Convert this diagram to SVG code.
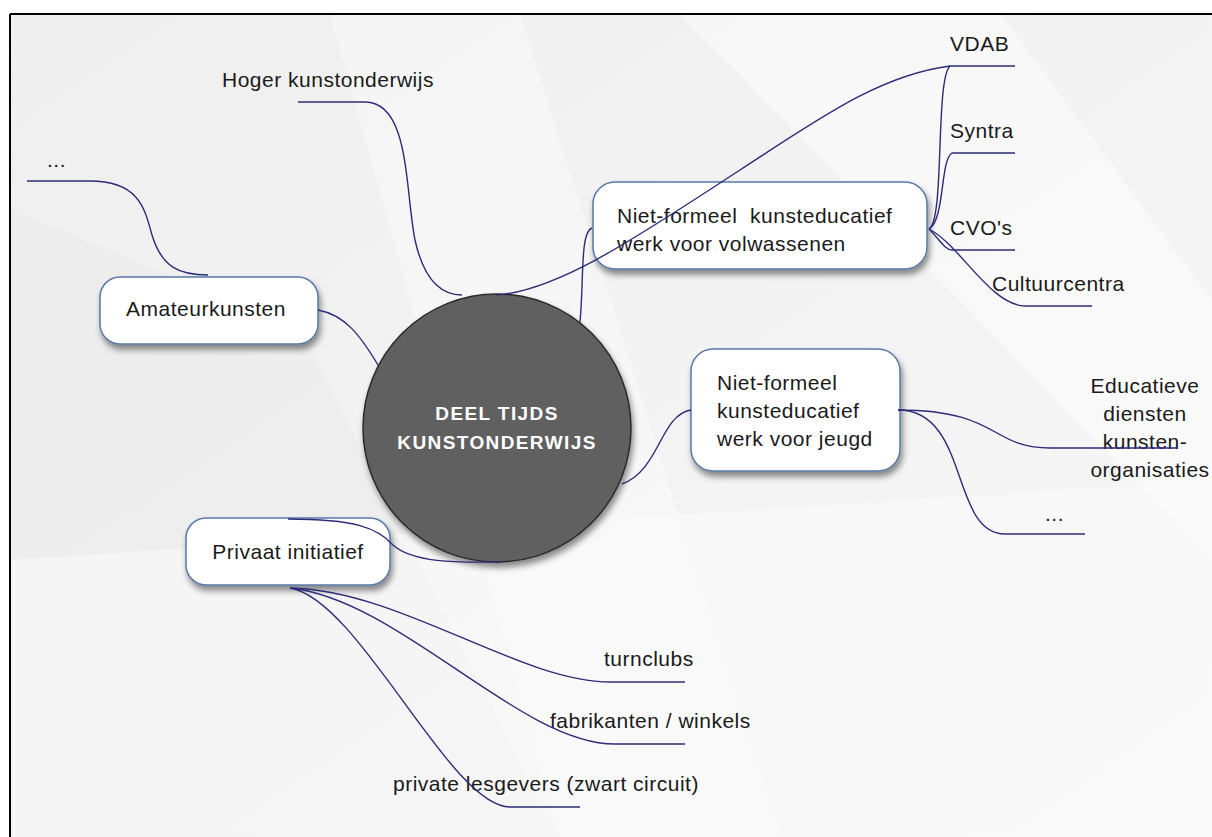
<svg xmlns="http://www.w3.org/2000/svg" width="1212" height="837" viewBox="0 0 1212 837">
  <style>
    .lbl { font-family: "Liberation Sans", Arial, sans-serif; font-size: 21px; fill: #1a1a1a; letter-spacing: 0.5px; }
    .box { fill: #ffffff; stroke: #5a78a8; stroke-width: 1.5; filter: url(#shadow); }
    .conn path { fill: none; stroke: #2c2c78; stroke-width: 1.4; }
    .core { font-family: "Liberation Sans", Arial, sans-serif; font-size: 19px; font-weight: bold; fill: #ffffff; letter-spacing: 1.4px; }
  </style>
  <defs>
    <filter id="shadow" x="-20%" y="-20%" width="140%" height="160%">
      <feDropShadow dx="2" dy="5" stdDeviation="3" flood-color="#000" flood-opacity="0.45"/>
    </filter>
    <linearGradient id="bg" x1="0" y1="0" x2="1" y2="1">
      <stop offset="0" stop-color="#efefef"/>
      <stop offset="1" stop-color="#f7f7f7"/>
    </linearGradient>
  </defs>

  <!-- background -->
  <rect x="0" y="0" width="1212" height="837" fill="#ffffff"/>
  <rect x="10" y="14" width="1202" height="823" fill="url(#bg)"/>
  <polygon points="330,14 520,14 780,837 560,837" fill="#ffffff" opacity="0.35"/>
  <polygon points="680,14 1000,14 1212,300 1212,560" fill="#ffffff" opacity="0.45"/>
  <polygon points="10,210 300,330 560,837 10,837" fill="#e9e9e9" opacity="0.5"/>
  <polygon points="10,560 1212,480 1212,837 10,837" fill="#fafafa" opacity="0.6"/>
  <line x1="10" y1="14" x2="1212" y2="14" stroke="#000" stroke-width="2"/>
  <line x1="10" y1="14" x2="10" y2="837" stroke="#000" stroke-width="2"/>

  <g id="core">
    <circle cx="497" cy="428" r="134" fill="#606060" stroke="#2a2a2a" stroke-width="1.5" filter="url(#shadow)"/>
    <text class="core" x="497" y="420" text-anchor="middle">DEEL TIJDS</text>
    <text class="core" x="497" y="449" text-anchor="middle">KUNSTONDERWIJS</text>
  </g>

  <g id="amateurkunsten">
    <rect class="box" x="100" y="277" width="218" height="67" rx="20"/>
    <text class="lbl" x="206" y="316" text-anchor="middle">Amateurkunsten</text>
  </g>

  <g id="volwassenen">
    <rect class="box" x="593" y="182" width="334" height="87" rx="22"/>
    <text class="lbl" x="617" y="223" xml:space="preserve">Niet-formeel  kunsteducatief</text>
    <text class="lbl" x="617" y="251">werk voor volwassenen</text>
  </g>

  <g id="jeugd">
    <rect class="box" x="691" y="349" width="209" height="122" rx="22"/>
    <text class="lbl" x="717" y="390">Niet-formeel</text>
    <text class="lbl" x="717" y="418">kunsteducatief</text>
    <text class="lbl" x="717" y="446">werk voor jeugd</text>
  </g>

  <g id="privaat">
    <rect class="box" x="186" y="518" width="204" height="67" rx="20"/>
    <text class="lbl" x="288" y="559" text-anchor="middle">Privaat initiatief</text>
  </g>

  <g id="hoger"><text class="lbl" x="222" y="87">Hoger kunstonderwijs</text></g>
  <g id="dots-left"><text class="lbl" x="47" y="167">...</text></g>
  <g id="vdab"><text class="lbl" x="950" y="51">VDAB</text></g>
  <g id="syntra"><text class="lbl" x="950" y="138">Syntra</text></g>
  <g id="cvo"><text class="lbl" x="950" y="235">CVO's</text></g>
  <g id="cultuurcentra"><text class="lbl" x="992" y="291">Cultuurcentra</text></g>
  <g id="educatieve">
    <text class="lbl" x="1145" y="393" text-anchor="middle">Educatieve</text>
    <text class="lbl" x="1145" y="421" text-anchor="middle">diensten</text>
    <text class="lbl" x="1145" y="449" text-anchor="middle">kunsten-</text>
    <text class="lbl" x="1150" y="477" text-anchor="middle">organisaties</text>
  </g>
  <g id="dots-right"><text class="lbl" x="1045" y="521">...</text></g>
  <g id="turnclubs"><text class="lbl" x="604" y="666">turnclubs</text></g>
  <g id="fabrikanten"><text class="lbl" x="550" y="728">fabrikanten / winkels</text></g>
  <g id="lesgevers"><text class="lbl" x="393" y="791">private lesgevers (zwart circuit)</text></g>

  <g id="connectors" class="conn">
    <path d="M298,102 L365,102 C410,102 405,190 415,240 C425,285 445,295 462,295"/>
    <path d="M27,181 L90,181 C140,181 145,210 152,235 C162,268 180,275 208,275"/>
    <path d="M318,310 C345,315 360,335 378,365"/>
    <path d="M497,295 C560,290 640,235 740,170 C820,118 880,75 950,66 L1015,66"/>
    <path d="M580,322 C584,280 580,232 592,228"/>
    <path d="M929,229 C945,220 935,80 950,66"/>
    <path d="M929,229 C945,220 940,160 952,153 L1015,153"/>
    <path d="M929,229 C940,240 945,250 952,250 L1015,250"/>
    <path d="M929,229 C960,245 990,305 1025,306 L1092,306"/>
    <path d="M622,484 C660,470 660,415 691,410"/>
    <path d="M898,410 C1000,410 990,448 1050,448 L1177,448"/>
    <path d="M898,410 C970,410 950,534 1005,534 L1085,534"/>
    <path d="M288,519 C355,519 378,528 393,545 C415,565 470,562 500,562"/>
    <path d="M290,588 C400,590 520,682 610,682 L685,682"/>
    <path d="M290,588 C400,600 520,744 615,744 L685,744"/>
    <path d="M290,588 C360,600 450,807 510,807 L580,807"/>
  </g>
</svg>
